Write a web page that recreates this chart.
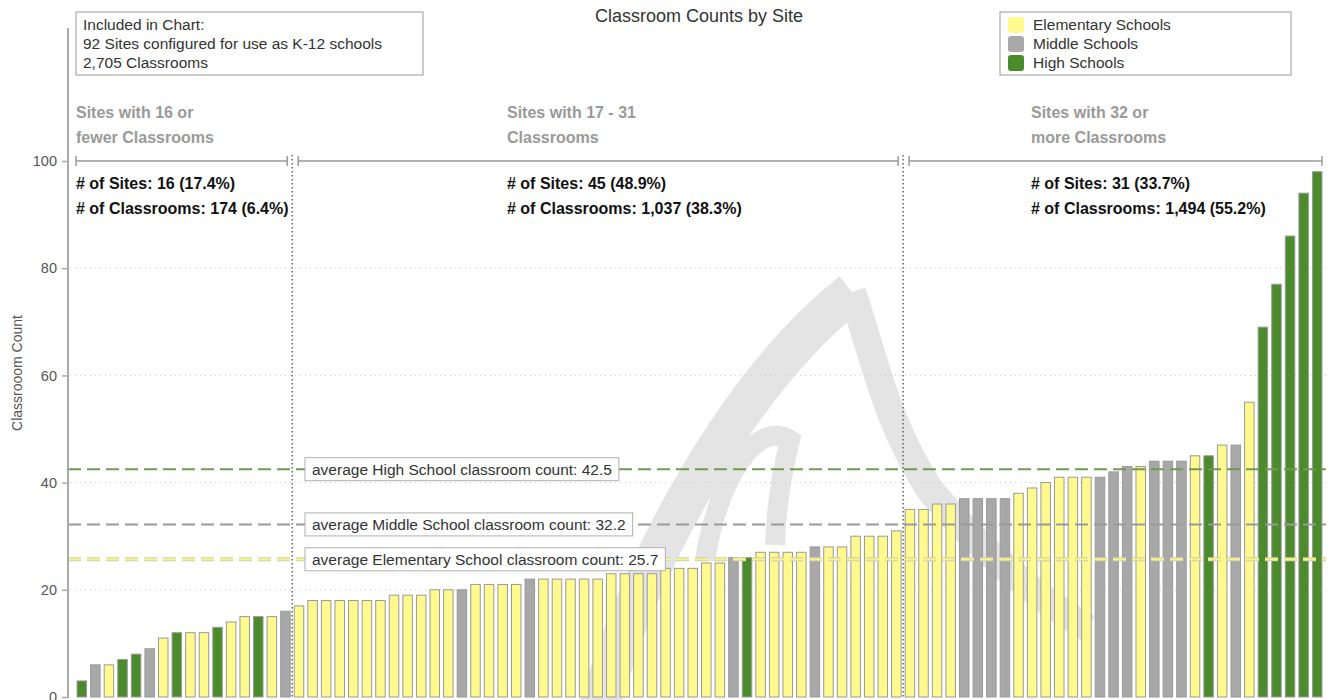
<!DOCTYPE html>
<html>
<head>
<meta charset="utf-8">
<script src="https://cdn.jsdelivr.net/npm/d3@7"></script>
<style>
  body { margin: 0; background: #fff; }
  svg { font-family: "Helvetica Neue", Helvetica, "Liberation Sans", Arial, sans-serif; }
</style>
</head>
<body>
<div id="chart"></div>
<script>
// classroom count per site, sorted ascending
var classrooms = [
  3, 6, 6, 7, 8, 9, 11, 12, 12, 12, 13, 14, 15, 15, 15, 16,
  17, 18, 18, 18, 18, 18, 18, 19, 19, 19, 20, 20, 20, 21, 21, 21, 21, 22, 22, 22,
  22, 22, 22, 23, 23, 23, 23, 24, 24, 24, 25, 25, 26, 26, 27, 27, 27, 27, 28, 28,
  28, 30, 30, 30, 31,
  35, 35, 36, 36, 37, 37, 37, 37, 38, 39, 40, 41, 41, 41, 41, 42, 43, 43, 44, 44,
  44, 45, 45, 47, 47, 55, 69, 77, 86, 94, 98
]

// E = elementary, M = middle, H = high
var siteType = [
  'H', 'M', 'E', 'H', 'H', 'M', 'E', 'H', 'E', 'E', 'H', 'E', 'E', 'H', 'E', 'M',
  'E', 'E', 'E', 'E', 'E', 'E', 'E', 'E', 'E', 'E', 'E', 'E', 'M', 'E', 'E', 'E',
  'E', 'M', 'E', 'E', 'E', 'E', 'E', 'E', 'E', 'E', 'E', 'E', 'E', 'E', 'E', 'E',
  'M', 'H', 'E', 'E', 'E', 'E', 'M', 'E', 'E', 'E', 'E', 'E', 'E',
  'E', 'E', 'E', 'E', 'M', 'M', 'M', 'M', 'E', 'E', 'E', 'E', 'E', 'E', 'M', 'M',
  'M', 'E', 'M', 'M', 'M', 'E', 'H', 'E', 'M', 'E', 'H', 'H', 'H', 'H', 'H'
]

var typeCodes = ['E', 'M', 'H']
var typeNames = ['Elementary Schools', 'Middle Schools', 'High Schools']

var avgNames = ['High School', 'Middle School', 'Elementary School']
var avgCodes = ['H', 'M', 'E']
var avgValues = [42.5, 32.2, 25.7]

var groupBreaks = [16, 31] // <=16, 17-31, >=32
var groupTitles = [
  ['Sites with 16 or', 'fewer Classrooms'],
  ['Sites with 17 - 31', 'Classrooms'],
  ['Sites with 32 or', 'more Classrooms']
]

var yTicks = [0, 20, 40, 60, 80, 100]

// ---- layout ----
var width = 1330
var height = 700
var groupTextX = [76, 507, 1031]

var svg = d3
  .select('#chart')
  .append('svg')
  .attr('width', width)
  .attr('height', height)

var data = classrooms.map(function(v, i) {
  return { i: i, value: v, type: siteType[i] }
})

var x = d3
  .scaleBand()
  .domain(d3.range(data.length))
  .range([75, 1324])
  .paddingInner(0.3)
  .paddingOuter(0.15)

var y = d3
  .scaleLinear()
  .domain([0, 100])
  .range([697, 161])

var colorScale = d3
  .scaleOrdinal()
  .domain(typeCodes)
  .range(['#fff98e', '#a8a8a8', '#4b8b2b'])

var avgColor = { H: '#6f9b52', M: '#9a9a9a', E: '#f7f28a' }

// groups
var groups = [
  data.filter(d => d.value <= groupBreaks[0]),
  data.filter(d => d.value > groupBreaks[0] && d.value <= groupBreaks[1]),
  data.filter(d => d.value > groupBreaks[1])
]
var totalSites = data.length
var totalRooms = d3.sum(classrooms)
var fmt = d3.format(',')
var pct = d3.format('.1%')

// boundaries between groups (midway between bars)
var seps = []
for (var g = 0; g < groups.length - 1; g++) {
  var last = groups[g][groups[g].length - 1].i
  seps.push((x(last) + x.bandwidth() + x(last + 1)) / 2)
}

// ---- watermark (faint logo behind the bars) ----
var wm = svg.append('g').attr('fill', 'none').attr('stroke', '#e4e4e4').attr('stroke-linecap', 'butt')
wm.append('path').attr('d', 'M600,705 C640,560 740,380 852,292').attr('stroke-width', 40)
wm.append('path').attr('d', 'M852,292 C875,360 885,420 930,490 C980,550 1040,600 1088,628').attr('stroke-width', 28)
wm.append('path').attr('d', 'M705,560 C720,470 760,420 790,440 C780,480 776,510 775,545').attr('stroke-width', 20)

// ---- gridlines ----
svg
  .append('g')
  .selectAll('line')
  .data(yTicks.filter(t => t > 0 && t < 100))
  .enter()
  .append('line')
  .attr('x1', 70)
  .attr('x2', 1326)
  .attr('y1', d => y(d))
  .attr('y2', d => y(d))
  .attr('stroke', '#c8c8c8')
  .attr('stroke-dasharray', '1,4')

// ---- group separators ----
svg
  .append('g')
  .selectAll('line')
  .data(seps)
  .enter()
  .append('line')
  .attr('x1', d => d)
  .attr('x2', d => d)
  .attr('y1', 155)
  .attr('y2', 697)
  .attr('stroke', '#666')
  .attr('stroke-width', 1.5)
  .attr('stroke-dasharray', '1.5,2.5')

// ---- bars ----
svg
  .append('g')
  .selectAll('rect')
  .data(data)
  .enter()
  .append('rect')
  .attr('x', d => x(d.i))
  .attr('width', x.bandwidth())
  .attr('y', d => y(d.value))
  .attr('height', d => y(0) - y(d.value))
  .attr('fill', d => colorScale(d.type))
  .attr('stroke', '#9a9a9a')
  .attr('stroke-width', 1)

// ---- average lines ----
var avgG = svg.append('g')
avgValues.forEach(function(v, k) {
  var code = avgCodes[k]
  if (code === 'E') {
    avgG
      .append('line')
      .attr('x1', 68).attr('x2', 1326)
      .attr('y1', y(v)).attr('y2', y(v))
      .attr('stroke', '#cfcfb0')
      .attr('stroke-width', 4)
      .attr('stroke-dasharray', '13,6')
  }
  avgG
    .append('line')
    .attr('x1', 68).attr('x2', 1326)
    .attr('y1', y(v)).attr('y2', y(v))
    .attr('stroke', avgColor[code])
    .attr('stroke-width', 2)
    .attr('stroke-dasharray', '13,6')
})
avgValues.forEach(function(v, k) {
  var lbl = avgG.append('g').attr('transform', 'translate(305,' + y(v) + ')')
  var rect = lbl.append('rect')
  var t = lbl
    .append('text')
    .attr('x', 7)
    .attr('dy', '0.35em')
    .attr('fill', '#333')
    .style('font-size', '15.5px')
    .text('average ' + avgNames[k] + ' classroom count: ' + v)
  var w = t.node().getComputedTextLength()
  rect
    .attr('x', 0)
    .attr('y', -11.5)
    .attr('width', w + 14)
    .attr('height', 23)
    .attr('fill', '#fff')
    .attr('stroke', '#b0b0b0')
})

// ---- y axis ----
var yAxis = d3
  .axisLeft(y)
  .tickValues(yTicks)
  .tickSize(6)
  .tickPadding(5)

svg
  .append('g')
  .attr('transform', 'translate(68,0)')
  .call(yAxis)
  .call(g => g.select('.domain').remove())
  .call(g => g.selectAll('line').attr('stroke', '#aaa').attr('stroke-width', 1.5))
  .call(g =>
    g
      .selectAll('text')
      .attr('fill', '#555')
      .style('font-size', '14.5px')
      .style('font-family', 'inherit')
  )

svg
  .append('line')
  .attr('x1', 68)
  .attr('x2', 68)
  .attr('y1', 28)
  .attr('y2', 698)
  .attr('stroke', '#aaa')
  .attr('stroke-width', 2)

svg
  .append('text')
  .attr('transform', 'translate(22,373) rotate(-90)')
  .attr('text-anchor', 'middle')
  .attr('fill', '#555')
  .style('font-size', '14px')
  .text('Classrooom Count')

// ---- group brackets and texts ----
var bounds = [x(0) - 1].concat(seps).concat([x(data.length - 1) + x.bandwidth()])
groups.forEach(function(grp, k) {
  var x1 = k === 0 ? bounds[0] : bounds[k] + 6
  var x2 = k === groups.length - 1 ? bounds[k + 1] : bounds[k + 1] - 5
  var br = svg.append('g').attr('stroke', '#999').attr('stroke-width', 1.5)
  br.append('line').attr('x1', x1).attr('x2', x2).attr('y1', y(100)).attr('y2', y(100))
  br.append('line').attr('x1', x1).attr('x2', x1).attr('y1', y(100) - 5).attr('y2', y(100) + 5)
  br.append('line').attr('x1', x2).attr('x2', x2).attr('y1', y(100) - 5).attr('y2', y(100) + 5)

  var tx = groupTextX[k]
  groupTitles[k].forEach(function(line, j) {
    svg
      .append('text')
      .attr('x', tx)
      .attr('y', 112 + j * 25)
      .attr('dy', '0.35em')
      .attr('fill', '#999')
      .style('font-size', '16px')
      .style('font-weight', 'bold')
      .text(line)
  })

  var rooms = d3.sum(grp, d => d.value)
  var stats = [
    '# of Sites: ' + grp.length + ' (' + pct(grp.length / totalSites) + ')',
    '# of Classrooms: ' + fmt(rooms) + ' (' + pct(rooms / totalRooms) + ')'
  ]
  stats.forEach(function(line, j) {
    svg
      .append('text')
      .attr('x', tx)
      .attr('y', 183 + j * 25)
      .attr('dy', '0.35em')
      .attr('fill', '#111')
      .style('font-size', '16px')
      .style('font-weight', 'bold')
      .text(line)
  })
})

// ---- title ----
svg
  .append('text')
  .attr('x', 699)
  .attr('y', 16)
  .attr('dy', '0.35em')
  .attr('text-anchor', 'middle')
  .attr('fill', '#333')
  .style('font-size', '18px')
  .text('Classroom Counts by Site')

// ---- info box ----
var info = svg.append('g')
info
  .append('rect')
  .attr('x', 76)
  .attr('y', 12)
  .attr('width', 347)
  .attr('height', 63)
  .attr('fill', '#fff')
  .attr('stroke', '#999')
var infoLines = [
  'Included in Chart:',
  totalSites + ' Sites configured for use as K-12 schools',
  fmt(totalRooms) + ' Classrooms'
]
info
  .selectAll('text')
  .data(infoLines)
  .enter()
  .append('text')
  .attr('x', 83)
  .attr('y', (d, i) => 25 + i * 19)
  .attr('dy', '0.35em')
  .attr('fill', '#333')
  .style('font-size', '15.5px')
  .text(d => d)

// ---- legend ----
var legend = svg.append('g')
legend
  .append('rect')
  .attr('x', 1000)
  .attr('y', 12)
  .attr('width', 291)
  .attr('height', 63)
  .attr('fill', '#fff')
  .attr('stroke', '#999')
var items = legend
  .selectAll('.item')
  .data(typeCodes)
  .enter()
  .append('g')
  .attr('class', 'item')
  .attr('transform', (d, i) => 'translate(1008,' + (25 + i * 19) + ')')
items
  .append('rect')
  .attr('x', 0)
  .attr('y', -8)
  .attr('width', 16)
  .attr('height', 16)
  .attr('rx', 3)
  .attr('fill', d => colorScale(d))
items
  .append('text')
  .attr('x', 25)
  .attr('dy', '0.35em')
  .attr('fill', '#333')
  .style('font-size', '15.5px')
  .text((d, i) => typeNames[i])
</script>
</body>
</html>
